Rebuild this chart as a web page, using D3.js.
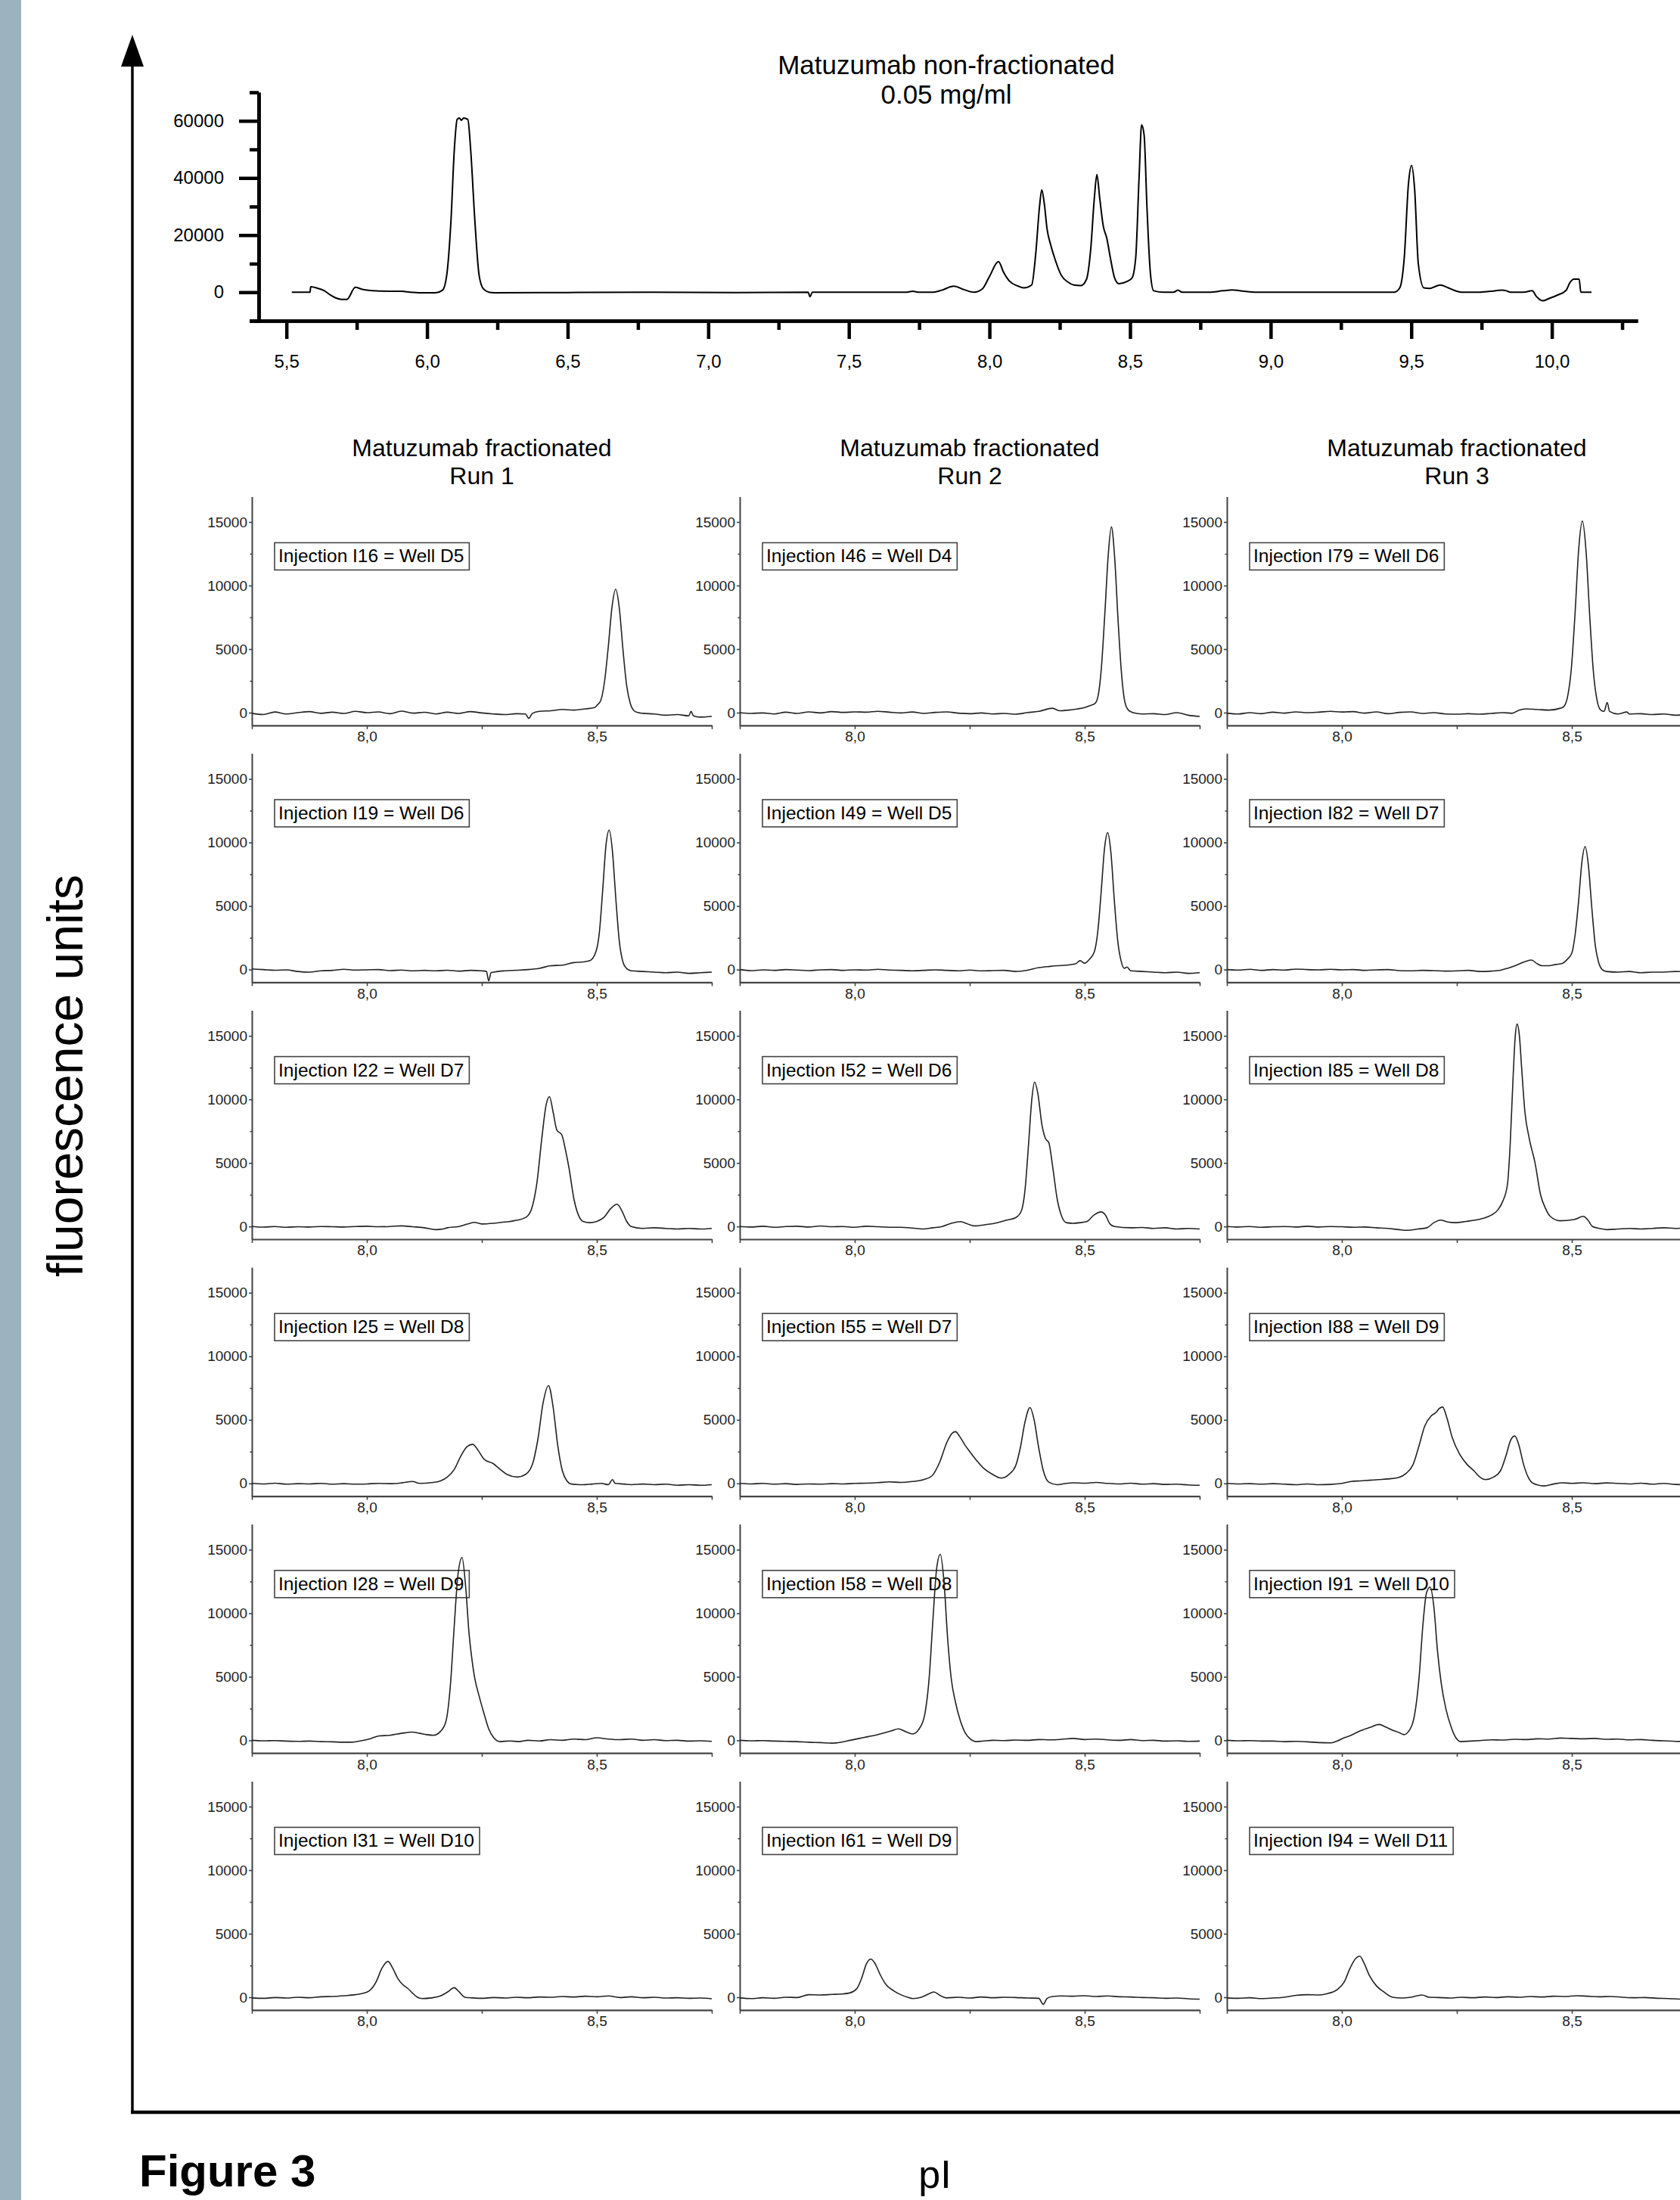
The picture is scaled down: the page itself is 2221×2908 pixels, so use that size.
<!DOCTYPE html>
<html>
<head>
<meta charset="utf-8">
<script src="https://cdn.jsdelivr.net/npm/d3@7/dist/d3.min.js"></script>
<style>
  body { margin: 0; background: #fff; }
  svg { display: block; font-family: "Liberation Sans", Arial, sans-serif; }
  .trace { fill: none; stroke: #222; stroke-width: 1.6; stroke-linejoin: round; }
  .top-trace { fill: none; stroke: #000; stroke-width: 2; stroke-linejoin: round; }
  .small-axis path, .small-axis line { stroke: #444; stroke-width: 1.6; }
  .small-axis text { font-size: 19px; fill: #222; font-family: "Liberation Sans", Arial, sans-serif; }
  .top-axis path, .top-axis line { stroke: #000; stroke-width: 4.5; }
  .top-axis text { font-size: 24px; fill: #000; font-family: "Liberation Sans", Arial, sans-serif; }
</style>
</head>
<body>
<script>
var width = 2221;
var height = 2908;

// ---- data ----
var topTitle = ["Matuzumab non-fractionated", "0.05 mg/ml"];
var topXTicks = [5.5, 6.0, 6.5, 7.0, 7.5, 8.0, 8.5, 9.0, 9.5, 10.0];
var topXMinor = [5.75, 6.25, 6.75, 7.25, 7.75, 8.25, 8.75, 9.25, 9.75, 10.25];
var topYTicks = [0, 20000, 40000, 60000];
var topYMinor = [-10000, 10000, 30000, 50000, 70000];

var topTrace = [[5.519,0],[5.584,0],[5.586,1900],[5.61,1400],[5.635,500],[5.655,-900],[5.675,-2000],[5.695,-2500],[5.715,-2500],
  [5.745,1700],[5.77,1000],[5.80,600],[5.84,400],[5.88,300],[5.91,300],[5.94,0],[5.98,-200],[6.03,-200],[6.055,700],[6.07,6000],
  [6.085,25000],[6.097,50000],[6.107,60500],[6.115,61000],[6.122,60200],[6.13,61000],[6.145,60500],[6.155,50000],[6.17,25000],
  [6.185,6000],[6.2,1200],[6.22,0],[6.24,-200],[6.5,-100],[6.8,0],[7.1,-100],[7.355,0],[7.362,-1600],[7.37,0],[7.55,0],[7.70,0],
  [7.728,300],[7.75,0],[7.80,0],[7.83,700],[7.873,2100],[7.91,900],[7.945,0],[7.975,1200],[8.0,5500],[8.032,10700],[8.05,7000],
  [8.07,4000],[8.10,2200],[8.122,1500],[8.15,2500],[8.165,14000],[8.178,30000],[8.186,35800],[8.195,31000],[8.205,22000],
  [8.218,16500],[8.235,11000],[8.255,6000],[8.28,3500],[8.30,2500],[8.325,2300],[8.345,4500],[8.36,15000],[8.373,33000],
  [8.382,41200],[8.392,33000],[8.405,23000],[8.417,19000],[8.43,12000],[8.445,5000],[8.46,3000],[8.49,3800],[8.507,5000],
  [8.52,12000],[8.532,40000],[8.541,58600],[8.55,55000],[8.56,30000],[8.572,7000],[8.584,500],[8.62,0],[8.655,0],[8.67,700],
  [8.685,0],[8.78,0],[8.83,500],[8.863,800],[8.9,400],[8.95,0],[9.2,0],[9.44,0],[9.459,1500],[9.475,12000],[9.49,38000],
  [9.501,44400],[9.512,36000],[9.525,10000],[9.545,1500],[9.565,1300],[9.585,2000],[9.603,2500],[9.63,1600],[9.66,400],[9.68,0],
  [9.74,0],[9.78,300],[9.824,700],[9.838,500],[9.853,0],[9.90,0],[9.93,500],[9.945,-1500],[9.968,-3000],[9.99,-2200],
  [10.02,-1000],[10.05,600],[10.065,3500],[10.078,4600],[10.097,4600],[10.103,0],[10.141,0]];

var runTitles = ["Run 1", "Run 2", "Run 3"];
var panelXTicks = [7.75, 8.0, 8.25, 8.5, 8.75];
var panelXLabels = [8.0, 8.5];
var panelYTicks = [0, 5000, 10000, 15000];
var panelYMinor = [2500, 7500, 12500];

var run1Labels = ["Injection I16 = Well D5", "Injection I19 = Well D6", "Injection I22 = Well D7",
  "Injection I25 = Well D8", "Injection I28 = Well D9", "Injection I31 = Well D10"];
var run2Labels = ["Injection I46 = Well D4", "Injection I49 = Well D5", "Injection I52 = Well D6",
  "Injection I55 = Well D7", "Injection I58 = Well D8", "Injection I61 = Well D9"];
var run3Labels = ["Injection I79 = Well D6", "Injection I82 = Well D7", "Injection I85 = Well D8",
  "Injection I88 = Well D9", "Injection I91 = Well D10", "Injection I94 = Well D11"];

var i16 = [[7.75,-50],[7.775,-150],[7.80,50],[7.825,-100],[7.85,0],[7.875,80],[7.90,-50],[7.925,40],[7.95,-60],[7.975,100],[8.0,0],
  [8.025,60],[8.05,-80],[8.075,120],[8.10,-40],[8.125,30],[8.15,-100],[8.175,40],[8.2,-60],[8.225,80],[8.25,-20],[8.275,-100],
  [8.30,-150],[8.325,-80],[8.345,-100],[8.352,-450],[8.36,-50],[8.375,100],[8.40,150],[8.425,250],[8.45,200],[8.475,300],
  [8.495,400],[8.501,600],[8.509,1000],[8.517,2500],[8.525,5200],[8.533,8300],[8.541,9720],[8.549,8200],[8.557,4900],
  [8.565,2100],[8.573,700],[8.581,150],[8.59,0],[8.60,-50],[8.625,-100],[8.65,-200],[8.675,-150],[8.70,-250],[8.705,100],
  [8.71,-250],[8.725,-350],[8.75,-300]];
var i19 = [[7.75,50],[7.775,0],[7.80,-50],[7.825,-20],[7.85,-150],[7.875,-200],[7.90,-100],[7.925,-60],[7.95,20],[7.975,-40],
  [8.0,-20],[8.025,0],[8.05,-80],[8.075,-40],[8.10,-100],[8.125,-60],[8.15,-100],[8.175,-50],[8.2,-120],[8.225,-60],[8.25,-100],
  [8.26,-150],[8.265,-890],[8.27,-250],[8.285,-150],[8.30,-100],[8.325,-50],[8.35,0],[8.375,100],[8.40,300],[8.425,350],
  [8.45,550],[8.47,600],[8.485,700],[8.498,1400],[8.5055,2900],[8.5125,6100],[8.52,9800],[8.527,10970],[8.534,9300],
  [8.5415,5500],[8.549,2200],[8.556,700],[8.563,150],[8.575,-100],[8.60,-150],[8.625,-200],[8.65,-250],[8.675,-200],
  [8.70,-300],[8.725,-250],[8.75,-200]];
var i22 = [[7.75,0],[7.775,-50],[7.80,0],[7.825,-60],[7.85,-20],[7.875,-40],[7.90,0],[7.925,-20],[7.95,-40],[7.975,0],[8.0,20],
  [8.025,-20],[8.05,0],[8.075,50],[8.10,-20],[8.125,-100],[8.15,-250],[8.165,-200],[8.175,-100],[8.2,0],[8.22,200],[8.234,320],
  [8.25,200],[8.275,250],[8.30,350],[8.32,450],[8.347,750],[8.36,1600],[8.37,3500],[8.38,6800],[8.39,9600],[8.397,10220],
  [8.405,9000],[8.413,7600],[8.424,7200],[8.432,6000],[8.44,4500],[8.45,2200],[8.46,900],[8.47,400],[8.485,300],[8.50,400],
  [8.515,700],[8.53,1400],[8.544,1750],[8.555,1200],[8.565,400],[8.575,0],[8.6,-150],[8.625,-100],[8.65,-150],[8.675,-200],
  [8.70,-150],[8.725,-200],[8.75,-150]];
var i25 = [[7.75,0],[7.775,-40],[7.80,20],[7.825,-60],[7.85,-20],[7.875,-40],[7.90,0],[7.925,-60],[7.95,-20],[7.975,-60],
  [8.0,-40],[8.025,0],[8.05,-20],[8.075,40],[8.099,150],[8.115,0],[8.14,60],[8.16,200],[8.175,500],[8.19,1100],[8.205,2200],
  [8.218,2900],[8.23,3075],[8.242,2600],[8.255,1900],[8.275,1550],[8.29,1100],[8.305,700],[8.327,500],[8.345,700],[8.36,1500],
  [8.372,3500],[8.383,6300],[8.395,7700],[8.405,6000],[8.415,3000],[8.425,1000],[8.435,200],[8.445,-50],[8.47,-100],
  [8.49,-50],[8.51,0],[8.525,-100],[8.534,300],[8.54,0],[8.56,-50],[8.575,-100],[8.60,-50],[8.625,-100],[8.65,-60],
  [8.675,-150],[8.70,-100],[8.725,-150],[8.75,-100]];
var i28 = [[7.75,0],[7.775,-40],[7.80,-20],[7.825,-60],[7.85,-80],[7.875,-60],[7.90,-100],[7.925,-120],[7.95,-150],[7.965,-150],
  [7.985,-50],[8.005,100],[8.027,350],[8.05,400],[8.075,550],[8.099,650],[8.115,550],[8.13,450],[8.145,400],[8.16,700],
  [8.172,1500],[8.182,4500],[8.19,9000],[8.198,13000],[8.207,14380],[8.215,12000],[8.222,8500],[8.228,6500],[8.234,5000],
  [8.244,3500],[8.254,2200],[8.265,900],[8.275,250],[8.29,-100],[8.31,-50],[8.33,-100],[8.35,0],[8.375,-50],[8.40,50],
  [8.425,0],[8.45,100],[8.475,50],[8.50,200],[8.525,100],[8.55,50],[8.575,100],[8.60,0],[8.625,50],[8.65,-20],[8.675,0],
  [8.70,-60],[8.725,-40],[8.75,-80]];
var i31 = [[7.75,-50],[7.775,-80],[7.80,-20],[7.825,-60],[7.85,0],[7.875,-40],[7.90,40],[7.925,60],[7.95,120],[7.975,200],
  [7.99,300],[8.005,500],[8.02,1200],[8.033,2300],[8.046,2820],[8.056,2300],[8.067,1500],[8.078,1000],[8.089,700],[8.1,300],
  [8.11,0],[8.12,-100],[8.14,-50],[8.16,100],[8.175,400],[8.19,750],[8.2,450],[8.213,0],[8.23,-50],[8.25,-80],[8.275,-20],
  [8.30,-60],[8.325,0],[8.35,-40],[8.375,20],[8.40,0],[8.425,60],[8.45,20],[8.475,80],[8.50,40],[8.525,100],[8.55,-20],
  [8.575,40],[8.60,-40],[8.625,0],[8.65,-60],[8.675,-40],[8.70,-80],[8.725,-60],[8.75,-120]];

var i46 = [[7.75,0],[7.775,-60],[7.80,-20],[7.825,-100],[7.85,40],[7.875,-60],[7.90,60],[7.925,-20],[7.95,80],[7.975,20],[8.0,60],
  [8.025,40],[8.05,100],[8.075,40],[8.10,-20],[8.125,50],[8.15,-60],[8.175,20],[8.2,60],[8.225,-40],[8.25,-80],[8.275,-20],
  [8.30,-100],[8.325,-60],[8.35,-120],[8.375,0],[8.40,100],[8.43,350],[8.445,150],[8.465,200],[8.485,300],[8.50,400],
  [8.515,600],[8.522,700],[8.529,1300],[8.536,3400],[8.5435,7600],[8.551,12300],[8.558,14620],[8.565,12300],[8.5725,7300],
  [8.58,3100],[8.587,900],[8.595,200],[8.605,0],[8.625,-100],[8.65,-80],[8.675,-150],[8.70,0],[8.725,-200],[8.75,-300]];
var i49 = [[7.75,0],[7.775,-80],[7.80,-20],[7.825,-60],[7.85,0],[7.875,-40],[7.90,-80],[7.925,-20],[7.95,0],[7.975,-60],
  [8.0,-20],[8.025,-40],[8.05,20],[8.075,-40],[8.10,-60],[8.125,-100],[8.15,-60],[8.175,-20],[8.2,-60],[8.225,-100],[8.25,-40],
  [8.275,-100],[8.30,-80],[8.325,-60],[8.35,-150],[8.375,-50],[8.40,150],[8.425,250],[8.44,300],[8.46,350],[8.48,450],
  [8.49,700],[8.50,500],[8.51,800],[8.521,1400],[8.5285,3000],[8.536,6200],[8.543,9500],[8.55,10770],[8.557,9200],
  [8.5645,5400],[8.572,2200],[8.579,700],[8.586,100],[8.592,200],[8.60,-100],[8.625,-150],[8.65,-200],[8.675,-250],
  [8.70,-200],[8.725,-300],[8.75,-250]];
var i52 = [[7.75,0],[7.775,-40],[7.80,20],[7.825,-60],[7.85,0],[7.875,20],[7.90,-40],[7.925,40],[7.95,-20],[7.975,0],[8.0,-60],
  [8.025,20],[8.05,-20],[8.075,-60],[8.10,-60],[8.125,-120],[8.147,-200],[8.17,-100],[8.19,0],[8.21,250],[8.23,380],[8.245,200],
  [8.26,50],[8.285,150],[8.31,300],[8.33,500],[8.35,700],[8.362,1200],[8.37,2800],[8.378,6500],[8.385,10000],[8.391,11370],
  [8.398,10500],[8.407,8000],[8.415,6900],[8.422,6600],[8.43,4800],[8.44,2200],[8.45,800],[8.46,300],[8.475,250],[8.49,300],
  [8.505,400],[8.52,900],[8.536,1150],[8.545,900],[8.555,200],[8.565,0],[8.6,-100],[8.625,-80],[8.65,-150],[8.675,-100],
  [8.70,-200],[8.725,-150],[8.75,-200]];
var i55 = [[7.75,0],[7.775,-40],[7.80,0],[7.825,-60],[7.85,-20],[7.875,-80],[7.90,-40],[7.925,-60],[7.95,-20],[7.975,-40],
  [8.0,0],[8.025,20],[8.05,60],[8.075,120],[8.10,80],[8.125,150],[8.15,300],[8.168,600],[8.185,1700],[8.2,3200],[8.212,3950],
  [8.219,4070],[8.228,3700],[8.24,3000],[8.25,2500],[8.265,1800],[8.28,1200],[8.3,700],[8.318,420],[8.335,700],[8.35,1400],
  [8.36,2800],[8.37,4800],[8.381,5970],[8.39,5000],[8.40,2800],[8.41,1000],[8.422,100],[8.44,-100],[8.46,0],[8.475,50],
  [8.50,20],[8.525,80],[8.55,0],[8.575,-40],[8.60,20],[8.625,-60],[8.65,-20],[8.675,-80],[8.70,-60],[8.725,-120],[8.75,-150]];
var i58 = [[7.75,0],[7.775,-40],[7.80,-20],[7.825,-60],[7.85,-80],[7.875,-100],[7.90,-150],[7.925,-180],[7.95,-220],[7.97,-150],
  [7.99,0],[8.01,150],[8.03,300],[8.044,400],[8.06,550],[8.08,750],[8.095,900],[8.11,700],[8.126,500],[8.14,900],[8.152,2000],
  [8.162,5000],[8.17,9500],[8.178,13500],[8.186,14640],[8.194,12500],[8.202,8000],[8.21,4800],[8.219,3000],[8.23,1500],
  [8.24,600],[8.25,150],[8.265,-100],[8.28,-50],[8.30,0],[8.325,-20],[8.35,20],[8.375,0],[8.40,60],[8.425,40],[8.45,80],
  [8.475,150],[8.50,60],[8.525,100],[8.55,40],[8.575,0],[8.60,60],[8.625,-20],[8.65,0],[8.675,-60],[8.70,-40],[8.725,-80],
  [8.75,-60]];
var i61 = [[7.75,-50],[7.775,-100],[7.80,-40],[7.825,-80],[7.85,0],[7.875,-20],[7.90,200],[7.925,180],[7.95,220],[7.97,250],
  [7.99,350],[8.005,700],[8.015,1500],[8.025,2600],[8.035,3010],[8.045,2600],[8.055,1800],[8.068,1000],[8.085,500],[8.1,200],
  [8.115,0],[8.126,-100],[8.145,0],[8.16,250],[8.172,420],[8.185,150],[8.2,-50],[8.225,0],[8.25,-60],[8.275,20],[8.30,-40],
  [8.325,0],[8.35,-20],[8.375,-60],[8.40,-80],[8.41,-560],[8.418,-100],[8.43,60],[8.45,100],[8.475,80],[8.50,120],
  [8.525,60],[8.55,100],[8.575,40],[8.60,20],[8.625,-20],[8.65,-40],[8.675,-80],[8.70,-60],[8.725,-120],[8.75,-150]];

var i79 = [[7.75,-50],[7.775,-100],[7.80,0],[7.825,-80],[7.85,40],[7.875,-40],[7.90,60],[7.925,0],[7.95,40],[7.975,100],
  [8.0,50],[8.025,80],[8.05,-40],[8.075,60],[8.10,-80],[8.125,20],[8.15,60],[8.175,-60],[8.2,0],[8.225,-100],[8.25,-120],
  [8.275,-80],[8.30,-120],[8.325,-60],[8.35,0],[8.37,-50],[8.385,200],[8.40,300],[8.425,250],[8.45,200],[8.475,350],
  [8.483,500],[8.491,1300],[8.499,3500],[8.507,7800],[8.515,12900],[8.523,15080],[8.531,12670],[8.539,7540],[8.547,3170],
  [8.555,950],[8.563,200],[8.57,100],[8.577,800],[8.582,100],[8.60,-100],[8.62,50],[8.625,-100],[8.65,-80],[8.675,-150],
  [8.70,-100],[8.725,-200],[8.75,-150]];
var i82 = [[7.75,0],[7.775,-40],[7.80,20],[7.825,-60],[7.85,0],[7.875,-40],[7.90,40],[7.925,0],[7.95,-20],[7.975,20],[8.0,-20],
  [8.025,0],[8.05,-60],[8.075,-20],[8.10,0],[8.125,-80],[8.15,-100],[8.175,-60],[8.2,-80],[8.225,-120],[8.25,-100],[8.275,-60],
  [8.30,-150],[8.325,-120],[8.345,-50],[8.36,100],[8.38,350],[8.40,650],[8.412,750],[8.425,450],[8.435,300],[8.45,300],
  [8.465,400],[8.48,500],[8.49,800],[8.5,1300],[8.507,2700],[8.5145,5300],[8.522,8500],[8.529,9680],[8.536,8200],
  [8.5435,4840],[8.551,1900],[8.558,600],[8.566,0],[8.575,-150],[8.60,-200],[8.625,-150],[8.65,-250],[8.675,-200],
  [8.70,-200],[8.725,-150],[8.75,-200]];
var i85 = [[7.75,0],[7.775,-40],[7.80,0],[7.825,-60],[7.85,-20],[7.875,0],[7.90,-40],[7.925,20],[7.95,-40],[7.975,0],[8.0,-20],
  [8.025,-60],[8.05,-40],[8.075,-100],[8.10,-150],[8.125,-250],[8.143,-300],[8.165,-200],[8.185,-100],[8.2,300],[8.215,500],
  [8.23,350],[8.246,300],[8.27,400],[8.29,500],[8.308,650],[8.325,900],[8.339,1300],[8.35,2000],[8.36,3300],[8.366,6500],
  [8.372,11500],[8.377,15000],[8.381,15930],[8.386,15000],[8.391,12400],[8.398,9000],[8.407,7000],[8.42,5000],[8.432,2500],
  [8.443,1400],[8.453,800],[8.474,450],[8.505,550],[8.525,800],[8.535,500],[8.545,0],[8.56,-150],[8.577,-250],[8.60,-200],
  [8.625,-150],[8.65,-200],[8.675,-150],[8.70,-100],[8.725,-150],[8.75,-100]];
var i88 = [[7.75,0],[7.775,-40],[7.80,-20],[7.825,-60],[7.85,-20],[7.875,-60],[7.90,-100],[7.925,-40],[7.95,-100],[7.975,-80],
  [8.0,0],[8.02,150],[8.04,200],[8.06,250],[8.08,300],[8.10,350],[8.122,450],[8.14,800],[8.155,1500],[8.168,3000],[8.18,4500],
  [8.194,5300],[8.205,5600],[8.212,5900],[8.219,6010],[8.228,5200],[8.24,3600],[8.256,2300],[8.272,1500],[8.287,1000],
  [8.30,500],[8.312,300],[8.33,500],[8.345,1000],[8.357,2200],[8.367,3400],[8.376,3730],[8.385,3000],[8.395,1500],[8.405,500],
  [8.416,0],[8.44,-200],[8.46,-50],[8.48,50],[8.50,0],[8.525,50],[8.55,-20],[8.575,40],[8.60,0],[8.625,-40],[8.65,20],
  [8.675,-60],[8.70,0],[8.725,-80],[8.75,-100]];
var i91 = [[7.75,0],[7.775,-40],[7.80,-20],[7.825,-60],[7.85,-60],[7.875,-100],[7.90,-80],[7.925,-120],[7.95,-180],[7.977,-200],
  [7.99,-50],[8.005,200],[8.02,400],[8.04,750],[8.06,1000],[8.081,1250],[8.095,1050],[8.11,800],[8.125,600],[8.135,450],
  [8.145,700],[8.158,2000],[8.168,5000],[8.176,9000],[8.184,11600],[8.192,12060],[8.2,10500],[8.208,7000],[8.216,4500],
  [8.226,2500],[8.238,1000],[8.248,200],[8.258,-100],[8.28,-60],[8.30,-20],[8.325,40],[8.35,20],[8.375,80],[8.40,60],
  [8.425,120],[8.45,100],[8.475,180],[8.50,150],[8.525,120],[8.55,150],[8.575,80],[8.60,100],[8.625,40],[8.65,60],[8.675,0],
  [8.70,-40],[8.725,-80],[8.75,-100]];
var i94 = [[7.75,-50],[7.775,-80],[7.80,-40],[7.825,-100],[7.85,-60],[7.875,0],[7.90,150],[7.925,200],[7.95,180],[7.97,300],
  [7.99,600],[8.005,1200],[8.018,2300],[8.03,3050],[8.039,3230],[8.048,2700],[8.06,1700],[8.075,900],[8.09,450],[8.11,0],
  [8.13,-60],[8.15,0],[8.174,180],[8.19,0],[8.21,-20],[8.235,-60],[8.26,0],[8.285,-40],[8.31,20],[8.335,-20],[8.36,40],
  [8.385,0],[8.41,60],[8.435,20],[8.46,80],[8.485,60],[8.51,120],[8.535,80],[8.56,40],[8.585,60],[8.61,0],[8.635,-40],
  [8.66,-20],[8.685,-80],[8.71,-100],[8.735,-150],[8.75,-120]];

var run1Traces = [i16, i19, i22, i25, i28, i31];
var run2Traces = [i46, i49, i52, i55, i58, i61];
var run3Traces = [i79, i82, i85, i88, i91, i94];

// ---- layout ----
var svg = d3.select("body").append("svg")
  .attr("width", width)
  .attr("height", height);

var commaFmt = function (d) { return d3.format(".1f")(d).replace(".", ","); };

// grey strip on the left
svg.append("rect")
  .attr("x", 0).attr("y", 0)
  .attr("width", 28).attr("height", height)
  .attr("fill", "#9cb3bf");

// big L-shaped frame with arrow
svg.append("line")
  .attr("x1", 175).attr("y1", 80).attr("x2", 175).attr("y2", 2794)
  .attr("stroke", "#000").attr("stroke-width", 3.5);
svg.append("line")
  .attr("x1", 173).attr("y1", 2792).attr("x2", width).attr("y2", 2792)
  .attr("stroke", "#000").attr("stroke-width", 4.5);
svg.append("path")
  .attr("d", "M175,46 L160,88 L190,88 Z")
  .attr("fill", "#000");

svg.append("text")
  .attr("transform", "translate(109,1422) rotate(-90)")
  .attr("text-anchor", "middle")
  .style("font-size", "66px")
  .text("fluorescence units");

svg.append("text")
  .attr("x", 184).attr("y", 2890)
  .style("font-size", "60px")
  .style("font-weight", "bold")
  .text("Figure 3");

svg.append("text")
  .attr("x", 1236).attr("y", 2892)
  .attr("text-anchor", "middle")
  .style("font-size", "52px")
  .text("pI");

// ---- top chart: non-fractionated ----
var xTop = d3.scaleLinear().domain([5.369, 10.305]).range([330, 2165]);
var yTop = d3.scaleLinear().domain([-10000, 70000]).range([424, 122]);

svg.selectAll("text.top-title")
  .data(topTitle)
  .enter()
  .append("text")
  .attr("class", "top-title")
  .attr("x", 1251)
  .attr("y", function (d, i) { return 98 + i * 39; })
  .attr("text-anchor", "middle")
  .style("font-size", "35px")
  .text(function (d) { return d; });

svg.append("g")
  .attr("class", "top-axis")
  .attr("transform", "translate(0,424)")
  .call(d3.axisBottom(xTop).tickValues(topXMinor).tickSize(12).tickSizeOuter(0).tickFormat(""));
svg.append("g")
  .attr("class", "top-axis")
  .attr("transform", "translate(0,424)")
  .call(d3.axisBottom(xTop).tickValues(topXTicks).tickSize(24).tickSizeOuter(0).tickPadding(21).tickFormat(commaFmt));

svg.append("g")
  .attr("class", "top-axis")
  .attr("transform", "translate(342,0)")
  .call(d3.axisLeft(yTop).tickValues(topYMinor).tickSize(12).tickSizeOuter(0).tickFormat(""));
svg.append("g")
  .attr("class", "top-axis")
  .attr("transform", "translate(342,0)")
  .call(d3.axisLeft(yTop).tickValues(topYTicks).tickSize(26).tickSizeOuter(0).tickPadding(20).tickFormat(d3.format("d")));

var topLine = d3.line()
  .x(function (d) { return xTop(d[0]); })
  .y(function (d) { return yTop(d[1]); })
  .curve(d3.curveMonotoneX);

svg.append("path")
  .datum(topTrace)
  .attr("class", "top-trace")
  .attr("d", topLine);

// ---- small panels: fractionated runs ----
var colX = [333, 978, 1622];
var panelW = 608;
var panelH = 302.4;
var rowStep = 339.6;
var firstTop = 656.4;

var xs = d3.scaleLinear().domain([7.75, 8.75]).range([0, panelW]);
var ys = d3.scaleLinear().domain([-1000, 17000]).range([panelH, 0]);

var smallLine = d3.line()
  .x(function (d) { return xs(d[0]); })
  .y(function (d) { return ys(d[1]); })
  .curve(d3.curveMonotoneX);

var runs = [
  { title: runTitles[0], labels: run1Labels, traces: run1Traces },
  { title: runTitles[1], labels: run2Labels, traces: run2Traces },
  { title: runTitles[2], labels: run3Labels, traces: run3Traces }
];

runs.forEach(function (run, c) {
  var cx = colX[c] + panelW / 2;
  svg.append("text")
    .attr("x", cx).attr("y", 603)
    .attr("text-anchor", "middle")
    .style("font-size", "32px")
    .text("Matuzumab fractionated");
  svg.append("text")
    .attr("x", cx).attr("y", 640)
    .attr("text-anchor", "middle")
    .style("font-size", "32px")
    .text(run.title);

  run.traces.forEach(function (trace, r) {
    var g = svg.append("g")
      .attr("transform", "translate(" + colX[c] + "," + (firstTop + r * rowStep) + ")");

    g.append("g")
      .attr("class", "small-axis")
      .call(d3.axisLeft(ys).tickValues(panelYMinor).tickSize(2.5).tickSizeOuter(0).tickFormat(""));
    g.append("g")
      .attr("class", "small-axis")
      .call(d3.axisLeft(ys).tickValues(panelYTicks).tickSize(4).tickSizeOuter(0).tickPadding(2).tickFormat(d3.format("d")));

    var xa = g.append("g")
      .attr("class", "small-axis")
      .attr("transform", "translate(0," + panelH + ")")
      .call(d3.axisBottom(xs).tickValues(panelXTicks).tickSize(5).tickSizeOuter(0).tickPadding(3)
        .tickFormat(function (d) { return panelXLabels.indexOf(d) >= 0 ? commaFmt(d) : ""; }));
    xa.select(".domain").style("stroke-width", 2.2);

    var box = g.append("rect")
      .attr("fill", "#fff")
      .attr("stroke", "#444")
      .attr("stroke-width", 1.6);
    var label = g.append("text")
      .attr("x", 35).attr("y", 87)
      .style("font-size", "24.5px")
      .text(run.labels[r]);
    var tw = label.node().getComputedTextLength();
    box.attr("x", 30).attr("y", 61).attr("width", tw + 12).attr("height", 36);

    g.append("path")
      .datum(trace)
      .attr("class", "trace")
      .attr("d", smallLine);
  });
});
</script>
</body>
</html>
